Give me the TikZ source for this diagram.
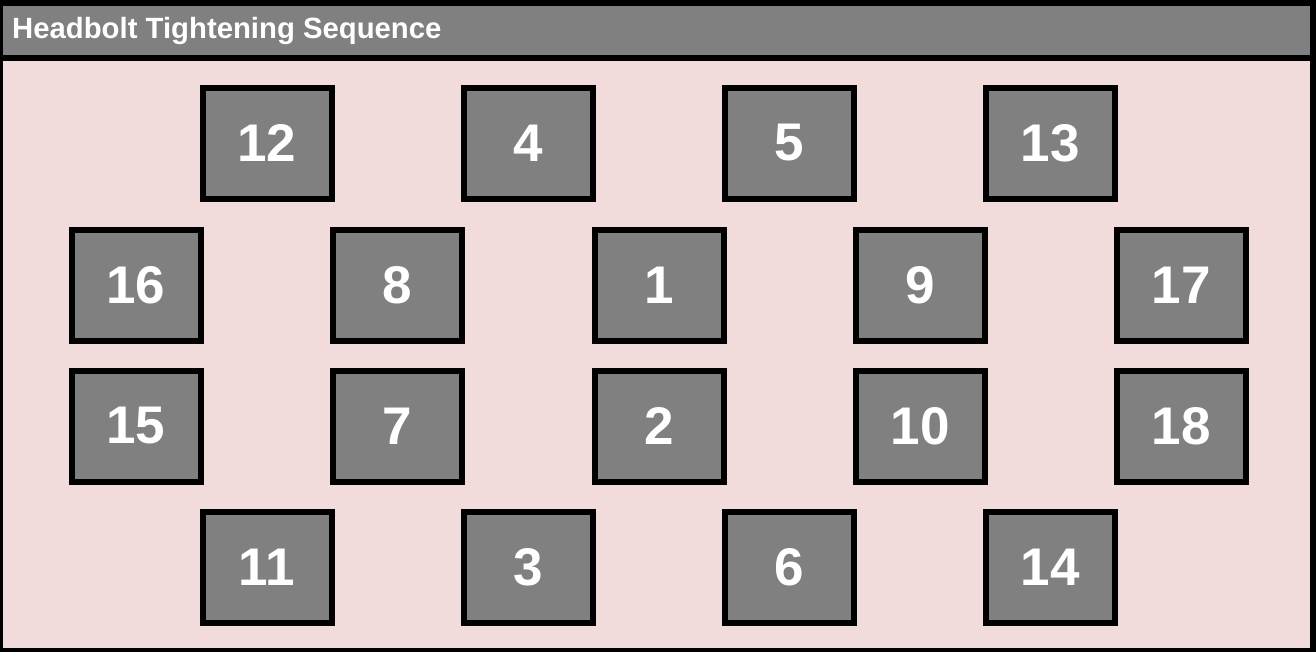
\documentclass[tikz,border=0pt]{standalone}
\usepackage{fontspec}
\setmainfont{Liberation Sans}
\usepackage{tikz}
\usetikzlibrary{
    positioning,
    calc
}
\definecolor{BoltGray}{RGB}{128,128,128}
\definecolor{HeadPink}{RGB}{242,220,219}
\tikzset{
  bolt/.style   = {draw=black, line width=6pt, fill=BoltGray, text=white,
                   minimum width=129pt, minimum height=111pt, inner sep=0pt,
                   font=\fontsize{53}{60}\selectfont\bfseries},
  titletxt/.style = {text=white, inner sep=0pt,
                   font=\fontsize{29.3}{33}\selectfont\bfseries}
}

\begin{document}
\begin{tikzpicture}[x=1pt, y=-1pt]
    \useasboundingbox (0,0) rectangle (1316,651);
    % panel and title bar
    \fill[HeadPink] (0,58) rectangle (1313,651);
    \fill[BoltGray] (0,3) rectangle (1313,58);
    \draw[line width=6pt] (0,3) rectangle (1313,651);
    \draw[line width=6pt] (0,58) -- (1313,58);
    \node[titletxt, anchor=base west] (title) at (12,38) {Headbolt Tightening Sequence};

    % top row
    \node[bolt] (b12) at (267,143) {12};
    \node[bolt] (b4)  at (528,143) {4};
    \node[bolt] (b5)  at (789,143) {5};
    \node[bolt] (b13) at (1050,143) {13};

    % second row
    \node[bolt] (b16) at (136,285) {16};
    \node[bolt] (b8)  at (397,285) {8};
    \node[bolt] (b1)  at (659,285) {1};
    \node[bolt] (b9)  at (920,285) {9};
    \node[bolt] (b17) at (1181,285) {17};

    % third row
    \node[bolt] (b15) at (136,426) {15};
    \node[bolt] (b7)  at (397,426) {7};
    \node[bolt] (b2)  at (659,426) {2};
    \node[bolt] (b10) at (920,426) {10};
    \node[bolt] (b18) at (1181,426) {18};

    % bottom row
    \node[bolt] (b11) at (267,567) {11};
    \node[bolt] (b3)  at (528,567) {3};
    \node[bolt] (b6)  at (789,567) {6};
    \node[bolt] (b14) at (1050,567) {14};
\end{tikzpicture}
\end{document}
